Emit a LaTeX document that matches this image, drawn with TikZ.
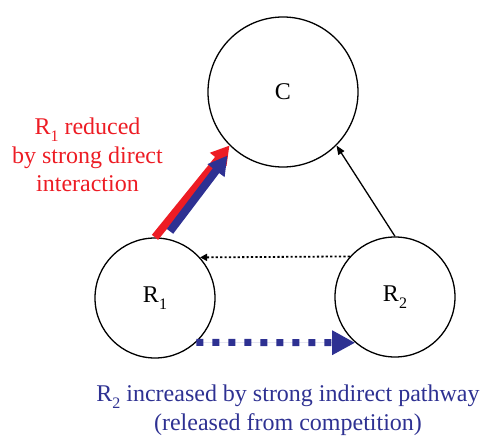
\documentclass[tikz,border=0pt]{standalone}
\usepackage{fontspec}
\setmainfont{Liberation Serif}
\usetikzlibrary{arrows.meta}
\definecolor{myred}{RGB}{237,28,36}
\definecolor{myblue}{RGB}{46,49,146}
\newcommand\lsub[1]{\raisebox{-0.28em}{\fontsize{16}{16}\selectfont #1}}
\begin{document}
\begin{tikzpicture}[x=1pt,y=-1pt,
  bigfont/.style={font=\fontsize{24}{28.5}\selectfont},
  state/.style={circle,draw,line width=1.3pt,inner sep=0pt,bigfont},
  redarrow/.style={draw=myred,line width=8pt,-{Triangle[length=18pt,width=20pt]},fill=myred},
  bluearrow/.style={draw=myblue,line width=8pt,-{Triangle[length=19pt,width=20pt]},fill=myblue},
  thinarrow/.style={draw=black,line width=1.3pt,-{Triangle[length=9pt,width=7pt]}},
  dotarrow/.style={draw=black,line width=1.8pt,dash pattern=on 2.2pt off 2.2pt,-{Triangle[length=7pt,width=7pt]}},
  dasharrow/.style={draw=myblue,line width=7pt,dash pattern=on 7pt off 9pt,-{Triangle[length=23pt,width=23pt]},fill=myblue},
  labeltext/.style={bigfont,align=center,anchor=north,inner sep=0pt}]
\useasboundingbox (0,0) rectangle (483,436);
\node[state,minimum size=150pt] (C) at (283,92) {C};
\node[state,minimum size=120pt] (R1) at (155,298) {R\lsub{1}};
\node[state,minimum size=120pt] (R2) at (395,297) {R\lsub{2}};
\draw[redarrow] (R1.90) -- (C.225);
\draw[bluearrow] ([shift={(15,-6)}]R1.90) -- ([shift={(-2,10)}]C.225);
\draw[thinarrow] (R2.90) -- (C.-45);
\draw[dotarrow] (R2.138) -- (R1.42);
\draw[dasharrow] (R1.-47) -- (R2.-131);
\node[labeltext,text=myred] (redtext) at (87.5,118) {R\lsub{1} reduced\\by strong direct\\interaction};
\node[labeltext,text=myblue] (bluetext) at (288,385) {R\lsub{2} increased by strong indirect pathway\\(released from competition)};
\end{tikzpicture}
\end{document}
